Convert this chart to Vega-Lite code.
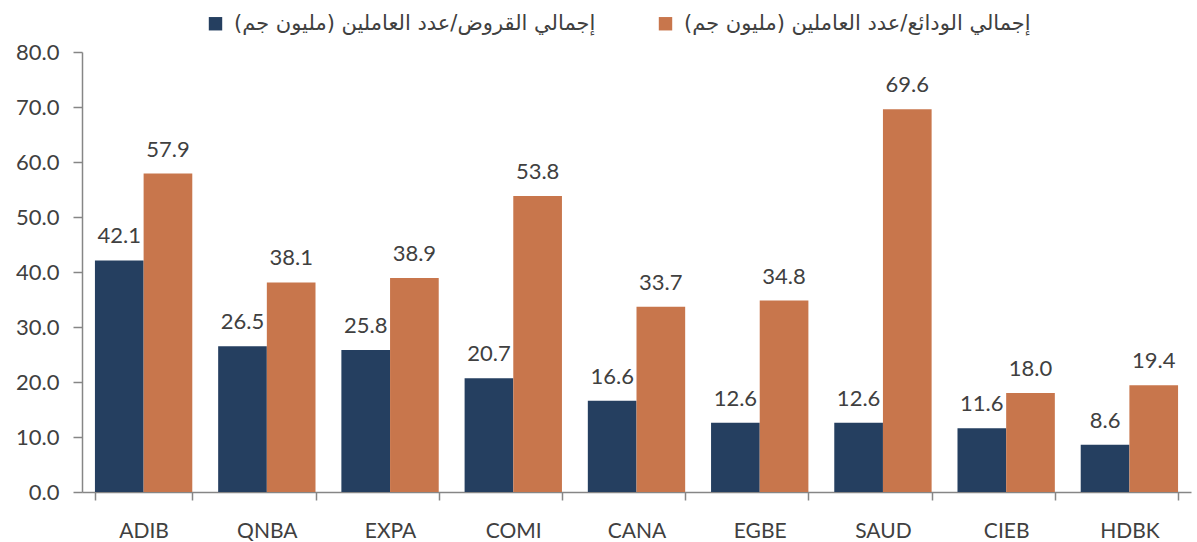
{
  "$schema": "https://vega.github.io/schema/vega-lite/v6.json",
  "width": 1109,
  "height": 440,
  "autosize": {"type": "none"},
  "padding": {"left": 82, "top": 52, "right": 6, "bottom": 50},
  "background": "white",
  "config": {
    "view": {"stroke": null},
    "font": "Lato",
    "axis": {"grid": false, "domainColor": "#868686", "tickColor": "#868686", "labelColor": "#404040", "labelFont": "Lato", "titleFont": "Lato"}
  },
  "data": {
    "values": [
      {"bank": "ADIB", "series": "إجمالي القروض/عدد  العاملين (مليون جم)", "order": 0, "value": 42.1},
      {"bank": "ADIB", "series": "إجمالي الودائع/عدد  العاملين (مليون جم)", "order": 1, "value": 57.9},
      {"bank": "QNBA", "series": "إجمالي القروض/عدد  العاملين (مليون جم)", "order": 0, "value": 26.5},
      {"bank": "QNBA", "series": "إجمالي الودائع/عدد  العاملين (مليون جم)", "order": 1, "value": 38.1},
      {"bank": "EXPA", "series": "إجمالي القروض/عدد  العاملين (مليون جم)", "order": 0, "value": 25.8},
      {"bank": "EXPA", "series": "إجمالي الودائع/عدد  العاملين (مليون جم)", "order": 1, "value": 38.9},
      {"bank": "COMI", "series": "إجمالي القروض/عدد  العاملين (مليون جم)", "order": 0, "value": 20.7},
      {"bank": "COMI", "series": "إجمالي الودائع/عدد  العاملين (مليون جم)", "order": 1, "value": 53.8},
      {"bank": "CANA", "series": "إجمالي القروض/عدد  العاملين (مليون جم)", "order": 0, "value": 16.6},
      {"bank": "CANA", "series": "إجمالي الودائع/عدد  العاملين (مليون جم)", "order": 1, "value": 33.7},
      {"bank": "EGBE", "series": "إجمالي القروض/عدد  العاملين (مليون جم)", "order": 0, "value": 12.6},
      {"bank": "EGBE", "series": "إجمالي الودائع/عدد  العاملين (مليون جم)", "order": 1, "value": 34.8},
      {"bank": "SAUD", "series": "إجمالي القروض/عدد  العاملين (مليون جم)", "order": 0, "value": 12.6},
      {"bank": "SAUD", "series": "إجمالي الودائع/عدد  العاملين (مليون جم)", "order": 1, "value": 69.6},
      {"bank": "CIEB", "series": "إجمالي القروض/عدد  العاملين (مليون جم)", "order": 0, "value": 11.6},
      {"bank": "CIEB", "series": "إجمالي الودائع/عدد  العاملين (مليون جم)", "order": 1, "value": 18.0},
      {"bank": "HDBK", "series": "إجمالي القروض/عدد  العاملين (مليون جم)", "order": 0, "value": 8.6},
      {"bank": "HDBK", "series": "إجمالي الودائع/عدد  العاملين (مليون جم)", "order": 1, "value": 19.4}
    ]
  },
  "encoding": {
    "x": {
      "field": "bank", "type": "nominal", "sort": null,
      "scale": {"paddingInner": 0.21, "paddingOuter": 0.105},
      "axis": {"title": null, "labelAngle": 0, "labelFontSize": 21, "labelPadding": 20, "tickSize": 8, "tickBand": "extent", "domainWidth": 1.5, "tickWidth": 1.5}
    },
    "xOffset": {"field": "order", "type": "ordinal"},
    "y": {
      "field": "value", "type": "quantitative",
      "scale": {"domain": [0, 80]},
      "axis": {"title": null, "values": [0, 10, 20, 30, 40, 50, 60, 70, 80], "format": ".1f", "labelFontSize": 22, "labelPadding": 14, "tickSize": 9, "domainWidth": 1.5, "tickWidth": 1.5}
    }
  },
  "layer": [
    {
      "mark": {"type": "bar"},
      "encoding": {
        "color": {
          "field": "series", "type": "nominal",
          "scale": {"domain": ["إجمالي القروض/عدد  العاملين (مليون جم)", "إجمالي الودائع/عدد  العاملين (مليون جم)"], "range": ["#253F60", "#C8764C"]},
          "legend": {"title": null, "orient": "none", "legendX": 123, "legendY": -39, "direction": "horizontal", "symbolType": "square", "symbolSize": 180, "symbolStrokeWidth": 0, "labelFont": "DejaVu Sans", "labelFontSize": 21, "labelColor": "#404040", "labelOffset": 8, "columnPadding": 52, "labelLimit": 600, "padding": 0}
        }
      }
    },
    {
      "mark": {"type": "text", "baseline": "alphabetic", "dy": -17, "fontSize": 22, "color": "#404040", "font": "Lato"},
      "encoding": {
        "text": {"field": "value", "type": "quantitative", "format": ".1f"}
      }
    }
  ]
}
